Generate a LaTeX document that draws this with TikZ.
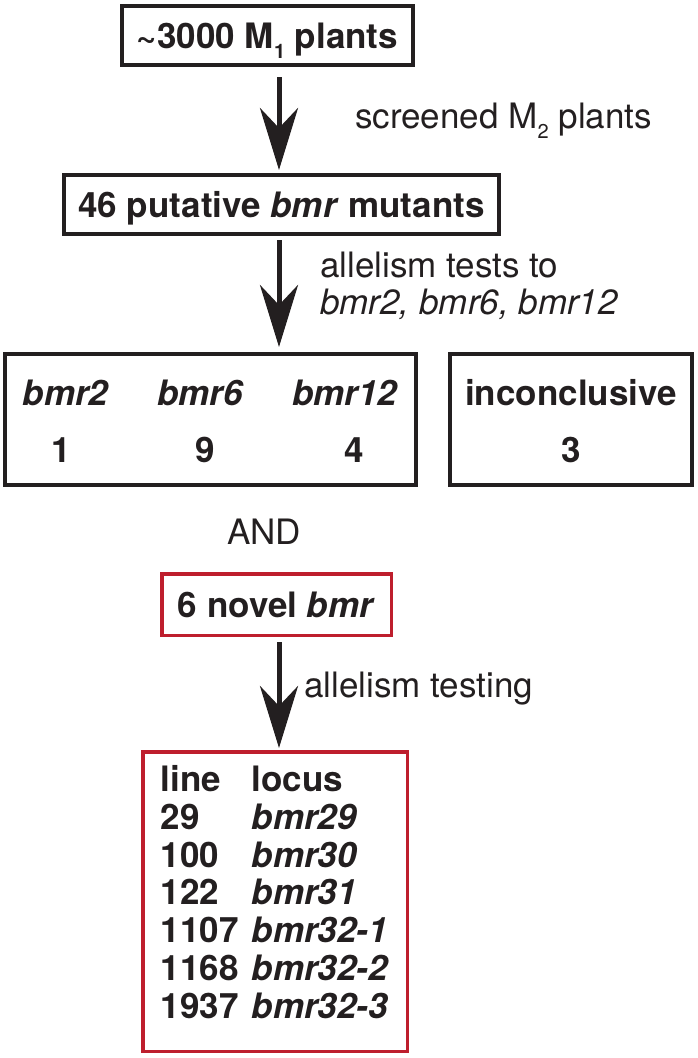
\documentclass[tikz,border=0pt]{standalone}
\usepackage{fontspec}
\setmainfont{TeX Gyre Heros}
\usepackage{xcolor}
\usepackage{tikz}
\usetikzlibrary{arrows.meta}
\definecolor{ink}{HTML}{231F20}
\definecolor{novel}{HTML}{BE1E2D}
\newcommand{\BigType}{\fontsize{35}{42}\selectfont}
\tikzset{
  BoxFrame/.style={
    draw=ink, line width=4pt,
    inner sep=0pt,
    font=\BigType\bfseries
  },
  RedFrame/.style={
    BoxFrame, draw=novel, line width=3.5pt
  },
  OneLine/.style={
    text height=25pt, text depth=0pt
  },
  FlowArrow/.style={
    draw=ink, line width=5pt,
    -{Stealth[length=62pt,width=38pt,inset=20pt]}
  },
  SideNote/.style={
    anchor=base west, inner sep=0pt
  }
}
\newcommand{\SubNum}[1]{%
  % small lowered index, as in M_1
  \raisebox{-0.3em}{\fontsize{20}{20}\selectfont #1}%
}

\begin{document}
\begin{tikzpicture}[x=1pt, y=-1pt, color=ink, font=\BigType]
  \useasboundingbox (0,0) rectangle (697,1058);
  % common axis of the arrows
  \coordinate (axis) at (279,0);

  % screening
  \node[BoxFrame, OneLine, minimum width=291pt, minimum height=59pt]
    (m1) at (267.5,35.5) {\textasciitilde3000 M\SubNum{1} plants};
  \node[BoxFrame, OneLine, minimum width=435pt, minimum height=59pt]
    (put) at (281.5,204.5) {46 putative \textit{bmr} mutants};
  \draw[FlowArrow, shorten <=10pt, shorten >=3pt] (axis |- m1.south) -- (axis |- put.north);
  \node[SideNote] (screen) at (355,128) {screened M\SubNum{2} plants};

  % allelism tests to known loci
  \node[BoxFrame, text depth=0pt, minimum width=411pt, minimum height=131pt]
    (alleles) at (210.5,419.5) {%
    \begin{tabular}[b]{@{}c@{\hspace{48pt}}c@{\hspace{48pt}}c@{}}
      \textit{bmr2} & \textit{bmr6} & \textit{bmr12}\\[15pt]
      \hspace*{-10pt}1 & 9\hspace*{-8pt} & \hspace*{18pt}4
    \end{tabular}};
  \node[BoxFrame, text depth=0pt, minimum width=242pt, minimum height=131pt]
    (inconcl) at (571,419.5) {%
    \begin{tabular}[b]{@{}c@{}}
      inconclusive\\[15pt]
      3
    \end{tabular}};
  \draw[FlowArrow, shorten <=4pt, shorten >=5pt] (axis |- put.south) -- (axis |- alleles.north);
  \node[SideNote] (tests) at (320,277) {allelism tests to};
  \node[SideNote] (loci) at (320,314) {\textit{bmr2, bmr6, bmr12}};

  \node[anchor=base, inner sep=0pt] (and) at (264,544) {AND};

  % novel loci
  \node[RedFrame, OneLine, minimum width=229.5pt, minimum height=61.5pt]
    (novel) at (276.5,604.5) {6 novel \textit{bmr}};
  \node[RedFrame, text depth=19.6pt, minimum width=264.5pt, minimum height=299.5pt]
    (lines) at (275,901.5) {\fontsize{35}{37.7}\selectfont
    \begin{tabular}[b]{@{}l@{\hspace{13pt}}l@{}}
      line & locus\\
      29   & \textit{bmr29}\\
      100  & \textit{bmr30}\\
      122  & \textit{bmr31}\\
      1107 & \textit{bmr32-1}\\
      1168 & \textit{bmr32-2}\\
      1937 & \textit{bmr32-3}
    \end{tabular}};
  \draw[FlowArrow, shorten <=5pt, shorten >=2pt] (axis |- novel.south) -- (axis |- lines.north);
  \node[SideNote] (testing) at (304,697) {allelism testing};
\end{tikzpicture}
\end{document}
